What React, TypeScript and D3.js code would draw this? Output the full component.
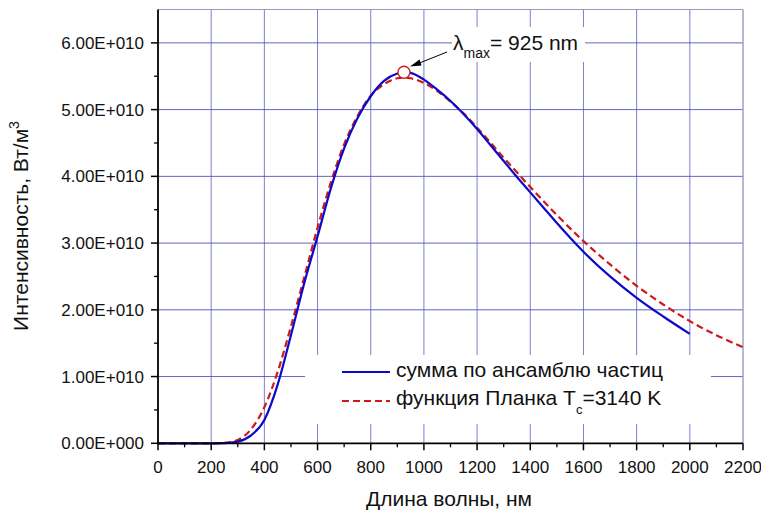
import React from "react";
import * as d3 from "d3";

const W = 761;
const H = 512;

// wavelengths (nm) and intensities (units of 1E+010 W/m^3)
const blueX = [0, 100, 200, 250, 300, 350, 400, 450, 500, 550, 600, 650, 700, 750, 800, 850, 900, 925, 950, 1000, 1050, 1100, 1150, 1200, 1250, 1300, 1350, 1400, 1450, 1500, 1550, 1600, 1700, 1800, 1900, 2000];
const blueY = [0, 0, 0, 0.002, 0.025, 0.12, 0.35, 0.88, 1.62, 2.4, 3.1, 3.82, 4.42, 4.87, 5.2, 5.43, 5.54, 5.56, 5.55, 5.45, 5.3, 5.13, 4.93, 4.71, 4.47, 4.23, 3.99, 3.76, 3.53, 3.3, 3.08, 2.87, 2.5, 2.18, 1.9, 1.64];

const redX = [0, 100, 200, 250, 300, 350, 400, 450, 500, 550, 600, 650, 700, 750, 800, 850, 900, 925, 950, 1000, 1050, 1100, 1150, 1200, 1300, 1400, 1500, 1600, 1700, 1800, 1900, 2000, 2100, 2200];
const redY = [0, 0, 0, 0.006, 0.05, 0.21, 0.54, 1.07, 1.75, 2.49, 3.23, 3.91, 4.48, 4.9, 5.21, 5.38, 5.47, 5.48, 5.47, 5.4, 5.28, 5.12, 4.94, 4.73, 4.28, 3.84, 3.42, 3.03, 2.68, 2.36, 2.08, 1.83, 1.62, 1.44];

const xTicks = [0, 200, 400, 600, 800, 1000, 1200, 1400, 1600, 1800, 2000, 2200];
const xMinor = [100, 300, 500, 700, 900, 1100, 1300, 1500, 1700, 1900, 2100];
const yTicks = [0, 1, 2, 3, 4, 5, 6];
const yTickLabels = ["0.00E+000", "1.00E+010", "2.00E+010", "3.00E+010", "4.00E+010", "5.00E+010", "6.00E+010"];
const yMinor = [0.5, 1.5, 2.5, 3.5, 4.5, 5.5];

const peakX = 925;
const peakY = 5.56;

const legendLabels = ["сумма по ансамблю частиц", "функция Планка T"];

const FONT = "'Liberation Sans', Arial, sans-serif";

export default function App() {
  const x = d3.scaleLinear().domain([0, 2200]).range([158, 743]);
  const y = d3.scaleLinear().domain([0, 6.5]).range([443.3, 9.5]);
  const blueData = blueX.map((v, i) => [v, blueY[i]] as [number, number]);
  const redData = redX.map((v, i) => [v, redY[i]] as [number, number]);
  const line = d3
    .line<[number, number]>()
    .x((d) => x(d[0]))
    .y((d) => y(d[1]))
    .curve(d3.curveMonotoneX);

  const gridColor = "#4a4ab8";
  const x0 = x(0), x1 = x(2200), y0 = y(0), y1 = y(6.5);
  const px = x(peakX), py = y(peakY);

  return (
    <svg
      width={W}
      height={H}
      style={{ position: "absolute", left: 0, top: 0, background: "#fff" }}
      fontFamily={FONT}
    >
      <rect x={0} y={0} width={W} height={H} fill="#fff" />
      {/* grid */}
      {xTicks.slice(1).map((t) => (
        <line key={"gx" + t} x1={x(t)} x2={x(t)} y1={y1} y2={y0} stroke={gridColor} strokeWidth={1} opacity={0.7} />
      ))}
      {yTicks.slice(1).map((t) => (
        <line key={"gy" + t} x1={x0} x2={x1} y1={y(t)} y2={y(t)} stroke={gridColor} strokeWidth={1} opacity={0.85} />
      ))}
      <line x1={x0} x2={x1} y1={y1} y2={y1} stroke="#9a9ac0" strokeWidth={1} />
      <line x1={x1} x2={x1} y1={y1} y2={y0} stroke="#b0b0c0" strokeWidth={1} />
      {/* white boxes */}
      <rect x={305} y={355} width={406} height={69} fill="#fff" />
      <rect x={452} y={27} width={133} height={35} fill="#fff" />

      {/* curves */}
      <path d={line(redData) || ""} fill="none" stroke="#d01818" strokeWidth={2.2} strokeDasharray="7,4" />
      <path d={line(blueData) || ""} fill="none" stroke="#0a0ac8" strokeWidth={2.2} />

      {/* axes */}
      <line x1={x0} x2={x0} y1={y1} y2={y0 + 1} stroke="#000" strokeWidth={1.8} />
      <line x1={x0 - 1} x2={x1} y1={y0} y2={y0} stroke="#000" strokeWidth={1.8} />
      {yTicks.map((t, i) => (
        <g key={"yt" + t}>
          <line x1={x0 - 7} x2={x0} y1={y(t)} y2={y(t)} stroke="#000" strokeWidth={1.5} />
          <text x={x0 - 14} y={y(t) + 6} textAnchor="end" fontSize={17} fill="#111">
            {yTickLabels[i]}
          </text>
        </g>
      ))}
      {yMinor.map((t) => (
        <line key={"ym" + t} x1={x0 - 4} x2={x0} y1={y(t)} y2={y(t)} stroke="#000" strokeWidth={1.3} />
      ))}
      {xTicks.map((t) => (
        <g key={"xt" + t}>
          <line x1={x(t)} x2={x(t)} y1={y0} y2={y0 + 7} stroke="#000" strokeWidth={1.5} />
          <text x={x(t)} y={473} textAnchor="middle" fontSize={17} fill="#111">
            {t}
          </text>
        </g>
      ))}
      {xMinor.map((t) => (
        <line key={"xm" + t} x1={x(t)} x2={x(t)} y1={y0} y2={y0 + 4} stroke="#000" strokeWidth={1.3} />
      ))}

      {/* axis titles */}
      <text x={449} y={506} textAnchor="middle" fontSize={21} fill="#111">
        Длина волны, нм
      </text>
      <text transform="translate(28,226) rotate(-90)" textAnchor="middle" fontSize={21} fill="#111">
        Интенсивность, Вт/м
        <tspan dy={-9} fontSize={14}>3</tspan>
      </text>

      {/* legend */}
      <line x1={342} x2={390} y1={372} y2={372} stroke="#0a0ac8" strokeWidth={2.2} />
      <text x={396} y={377} fontSize={21} fill="#111">{legendLabels[0]}</text>
      <line x1={342} x2={390} y1={401} y2={401} stroke="#d01818" strokeWidth={2.2} strokeDasharray="7,4" />
      <text x={396} y={405} fontSize={21} fill="#111">
        {legendLabels[1]}
        <tspan dy={9} fontSize={13}>c</tspan>
        <tspan dy={-9}>=3140 K</tspan>
      </text>

      {/* annotation */}
      <line x1={447} y1={52} x2={417} y2={64} stroke="#000" strokeWidth={1} />
      <path d="M410,66.5 L419.5,59.5 L421.5,65.5 Z" fill="#000" />
      <circle cx={px} cy={py} r={6} fill="#fff" stroke="#cc2020" strokeWidth={1.3} />
      <text x={453} y={50} fontSize={21} fill="#111">
        λ
        <tspan dy={8} fontSize={14}>max</tspan>
        <tspan dy={-8}>= 925 nm</tspan>
      </text>
    </svg>
  );
}
